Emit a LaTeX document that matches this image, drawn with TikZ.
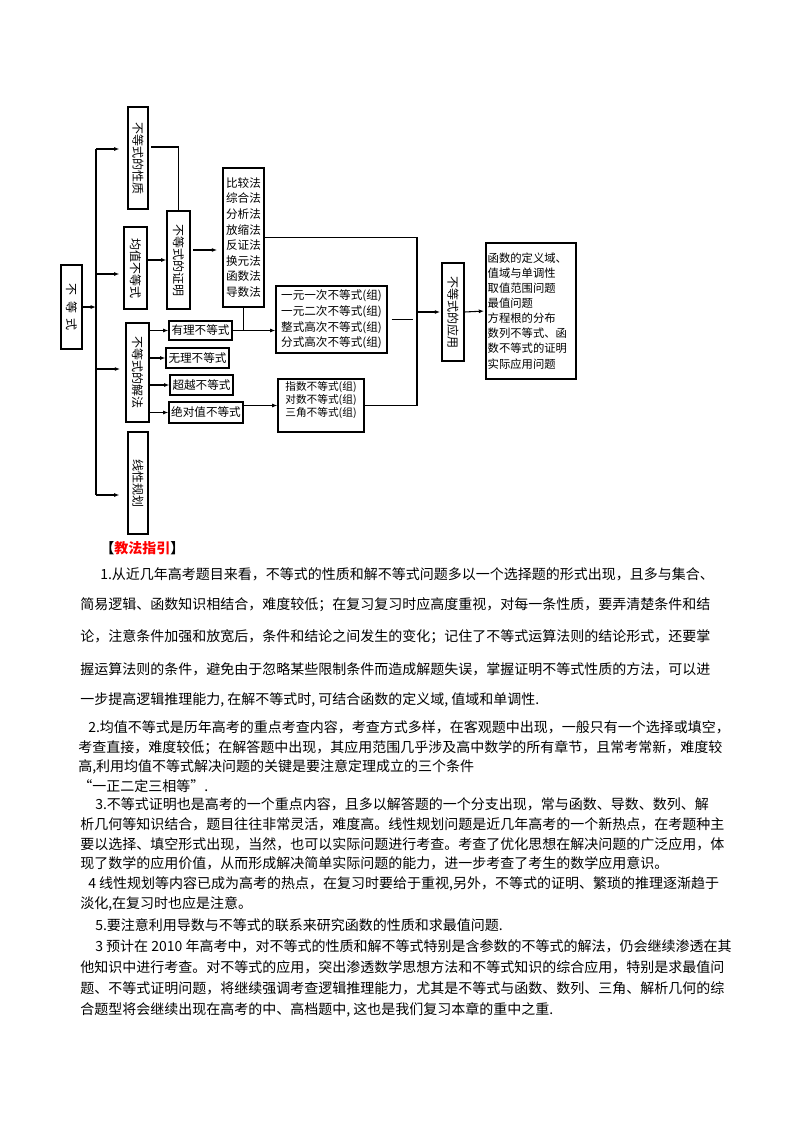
\documentclass[tikz,border=0pt]{standalone}
\usepackage{fontspec}
\setmainfont{Noto Sans CJK SC}
\usetikzlibrary{arrows.meta}
\newcommand\pxu{0.75pt}
\tikzset{
  >={Latex[length=4pt,width=3pt]},
  box/.style={draw, line width=0.8pt, inner sep=0pt},
  sz/.style 2 args={minimum width=#1*\pxu, minimum height=#2*\pxu},
  vlabel/.style={box, font=\fontsize{9}{9}\selectfont},
  smallbox/.style={box, font=\fontsize{8.7}{10}\selectfont},
  listbox/.style={box, align=left, inner xsep=1pt, font=\fontsize{8.7}{11.7}\selectfont},
  conn/.style={line width=0.8pt},
  txt/.style={anchor=west, inner sep=0pt, font=\fontsize{10.5}{12}\selectfont},
}

\begin{document}
\begin{tikzpicture}[x=\pxu, y=-\pxu]
\useasboundingbox (0,0) rectangle (800,1132);

% --- the tree of boxes
\node[vlabel, sz={21}{84}]  (root)      at (71.5,307)   {\rotatebox{-90}{不\ \ 等\ \ 式}};
\node[vlabel, sz={20}{102}] (xingzhi)   at (138,158)    {\rotatebox{-90}{不等式的性质}};
\node[vlabel, sz={23}{82}]  (junzhi)    at (135.5,268)  {\rotatebox{-90}{均值不等式}};
\node[vlabel, sz={23}{98}]  (zhengming) at (178.5,260)  {\rotatebox{-90}{不等式的证明}};
\node[vlabel, sz={23}{99}]  (jiefa)     at (137.5,372.5){\rotatebox{-90}{不等式的解法}};
\node[vlabel, sz={20}{102}] (guihua)    at (138,483)    {\rotatebox{-90}{线性规划}};
\node[vlabel, sz={22}{98}]  (yingyong)  at (453,312)    {\rotatebox{-90}{不等式的应用}};

\node[listbox, sz={41}{139}] (methods) at (243.5,237.5)
  {比较法\\综合法\\分析法\\放缩法\\反证法\\换元法\\函数法\\导数法};
\node[smallbox, sz={63}{19}] (youli)     at (200.5,330.5) {有理不等式};
\node[smallbox, sz={63}{20}] (wuli)      at (197.5,358)   {无理不等式};
\node[smallbox, sz={63}{20}] (chaoyue)   at (201.5,385)   {超越不等式};
\node[smallbox, sz={74}{21}] (jueduizhi) at (206,412.5)   {绝对值不等式};
\node[listbox, sz={111}{67}] (poly) at (331.5,319.5)
  {一元一次不等式(组)\\一元二次不等式(组)\\整式高次不等式(组)\\分式高次不等式(组)};
\node[listbox, sz={86}{53}, font=\fontsize{8}{10}\selectfont] (expo) at (321,405.5)
  {指数不等式(组)\\对数不等式(组)\\三角不等式(组)\\~};
\node[listbox, sz={90}{136}, text width=65pt, font=\fontsize{8.5}{11.3}\selectfont] (applist) at (531,311)
  {函数的定义域、\\值域与单调性\\取值范围问题\\最值问题\\方程根的分布\\数列不等式、函\\数不等式的证明\\实际应用问题};

% --- connectors
\coordinate (b1) at (96,149);
\coordinate (b2) at (96,274);
\coordinate (b3) at (96,369);
\coordinate (b4) at (96,495);
\coordinate (c1) at (151,147);
\coordinate (col) at (417,0);
\draw[conn] (b1) -- (b4);
\draw[conn, ->] (root.east) -- (root.east -| b1);
\draw[conn, ->, shorten >=6pt] (b1) -- (b1 -| xingzhi.west);
\draw[conn, ->, shorten >=3pt] (b2) -- (b2 -| junzhi.west);
\draw[conn, ->, shorten >=4pt] (b3) -- (b3 -| jiefa.west);
\draw[conn, ->, shorten >=6pt] (b4) -- (b4 -| guihua.west);
\draw[conn] (c1) -| (zhengming.north);
\draw[conn, ->] (junzhi.east |- zhengming.west) -- (zhengming.west);
\draw[conn, ->, shorten <=2pt, shorten >=4pt] ([yshift=7.5pt]zhengming.east) -- ([yshift=7.5pt]zhengming.east -| methods.west);
\foreach \n in {youli,wuli,chaoyue,jueduizhi}
  \draw[conn, ->] (jiefa.east |- \n.west) -- (\n.west);
\draw[conn] (methods.south) -- (methods.south |- youli.east);
\draw[conn, ->] (youli.east) -- (youli.east -| poly.west);
\draw[conn, ->] (jueduizhi.east |- expo.west) -- (expo.west);
\draw[conn] (methods.east) -| (col |- expo.east) -- (expo.east);
\draw[conn] ([xshift=3pt]poly.east) -- ([xshift=-3pt]poly.east -| col);
\draw[conn, ->, shorten >=1pt] (col |- yingyong.west) -- (yingyong.west);
\draw[conn, ->, shorten >=1pt] (yingyong.east) -- (applist.west);

% --- the text below
\node[txt, font=\fontsize{10.5}{12}\selectfont\bfseries] (head) at (100,548) {【{\color{red}教法指引}】};
\node[txt] (l1)  at (100,574)  {1.从近几年高考题目来看，不等式的性质和解不等式问题多以一个选择题的形式出现，且多与集合、};
\node[txt] (l2)  at (80,605)   {简易逻辑、函数知识相结合，难度较低；在复习复习时应高度重视，对每一条性质，要弄清楚条件和结};
\node[txt] (l3)  at (80,637)   {论，注意条件加强和放宽后，条件和结论之间发生的变化；记住了不等式运算法则的结论形式，还要掌};
\node[txt] (l4)  at (80,669)   {握运算法则的条件，避免由于忽略某些限制条件而造成解题失误，掌握证明不等式性质的方法，可以进};
\node[txt] (l5)  at (80,700)   {一步提高逻辑推理能力, 在解不等式时, 可结合函数的定义域, 值域和单调性.};
\node[txt] (l6)  at (88,727)   {2.均值不等式是历年高考的重点考查内容，考查方式多样，在客观题中出现，一般只有一个选择或填空，};
\node[txt] (l7)  at (78,748)   {考查直接，难度较低；在解答题中出现，其应用范围几乎涉及高中数学的所有章节，且常考常新，难度较};
\node[txt] (l8)  at (78,767)   {高,利用均值不等式解决问题的关键是要注意定理成立的三个条件};
\node[txt] (l9)  at (78,786)   {“一正二定三相等”.};
\node[txt] (l10) at (95,804)   {3.不等式证明也是高考的一个重点内容，且多以解答题的一个分支出现，常与函数、导数、数列、解};
\node[txt] (l11) at (80,824)   {析几何等知识结合，题目往往非常灵活，难度高。线性规划问题是近几年高考的一个新热点，在考题种主};
\node[txt] (l12) at (80,844)   {要以选择、填空形式出现，当然，也可以实际问题进行考查。考查了优化思想在解决问题的广泛应用，体};
\node[txt] (l13) at (80,863)   {现了数学的应用价值，从而形成解决简单实际问题的能力，进一步考查了考生的数学应用意识。};
\node[txt] (l14) at (88,884)   {4 线性规划等内容已成为高考的热点，在复习时要给于重视,另外，不等式的证明、繁琐的推理逐渐趋于};
\node[txt] (l15) at (80,904)   {淡化,在复习时也应是注意。};
\node[txt] (l16) at (95,925)   {5.要注意利用导数与不等式的联系来研究函数的性质和求最值问题.};
\node[txt] (l17) at (95,946)   {3 预计在 2010 年高考中，对不等式的性质和解不等式特别是含参数的不等式的解法，仍会继续渗透在其};
\node[txt] (l18) at (80,967)   {他知识中进行考查。对不等式的应用，突出渗透数学思想方法和不等式知识的综合应用，特别是求最值问};
\node[txt] (l19) at (80,988)   {题、不等式证明问题，将继续强调考查逻辑推理能力，尤其是不等式与函数、数列、三角、解析几何的综};
\node[txt] (l20) at (80,1010)  {合题型将会继续出现在高考的中、高档题中, 这也是我们复习本章的重中之重.};
\end{tikzpicture}
\end{document}
